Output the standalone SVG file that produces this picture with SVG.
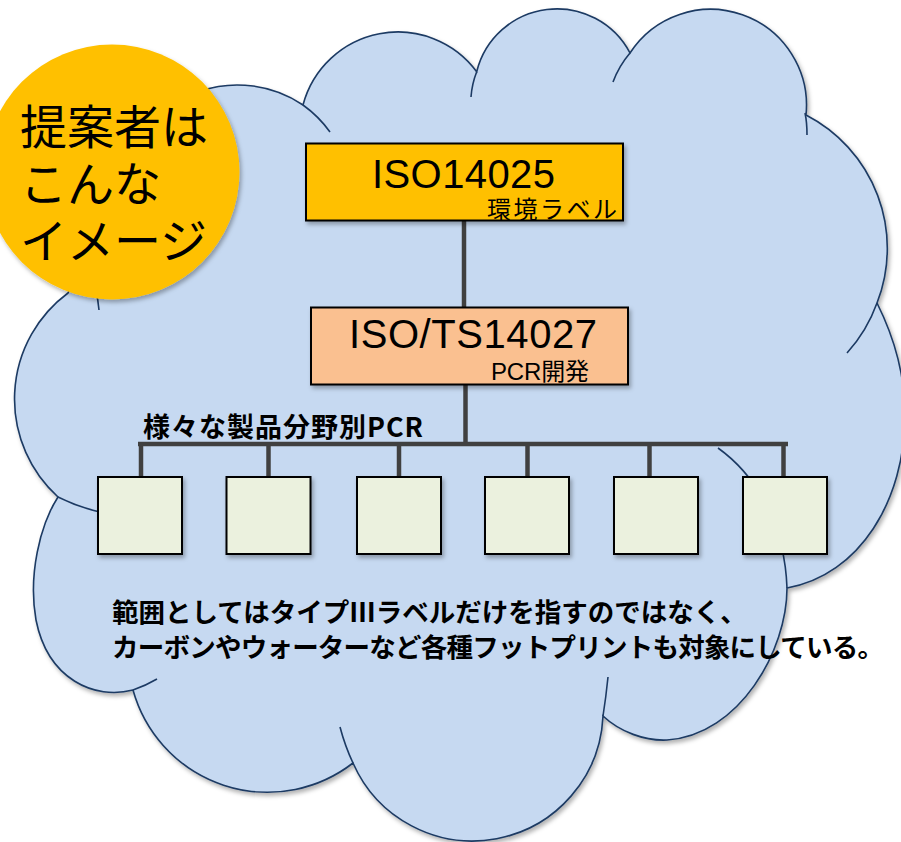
<svg xmlns="http://www.w3.org/2000/svg" width="901" height="842" viewBox="0 0 901 842">
<defs>
<filter id="sh" x="-10%" y="-10%" width="125%" height="125%">
<feDropShadow dx="2" dy="3" stdDeviation="2" flood-color="#000" flood-opacity="0.3"/>
</filter>
<style>
.cloud{fill:#c6d9f1;stroke:#1c3a63;stroke-width:1.6}
.stub{fill:none;stroke:#1c3a63;stroke-width:1.6}
.box{stroke:#000;stroke-width:2;filter:url(#sh)}
.pbox{fill:#ebf1de}
.conn{fill:none;stroke:#404040;stroke-width:4.5}
.big{font-family:"Liberation Sans","Noto Sans CJK JP",sans-serif;font-size:40px;fill:#000}
.sub{font-family:"Liberation Sans","Noto Sans CJK JP",sans-serif;font-size:24px;fill:#000}
.jp{font-family:"Noto Sans CJK JP",sans-serif;fill:#000}
</style>
</defs>
<rect width="901" height="842" fill="#ffffff"/>
<g id="cloud">
<path class="cloud" filter="url(#sh)" d="M68,293 L140,140 L200,91 A118,118 0 0 1 303,105 A98.1,98.1 0 0 1 476.7,71.7 A82.6,82.6 0 0 1 630,53 A96,96 0 0 1 806,115 A150,150 0 0 1 877,303 C893,335 905,375 905,415 C905,500 860,575 787,588 C787,650 740,735 667,740 C645,741 620,732 603,716 A130.6,130.6 0 0 1 353,763 A139.6,139.6 0 0 1 133,690 C95,700 48,680 36,620 C28,575 40,525 58,497 A132,132 0 0 1 68,293 Z"/>
<path class="stub" d="M96,290 Q98,300 99,310"/>
<path class="stub" d="M303,105 A118,118 0 0 1 330,132"/>
<path class="stub" d="M471,97 A86,86 0 0 1 476.7,71.7"/>
<path class="stub" d="M613,82 A96,96 0 0 1 630,53"/>
<path class="stub" d="M805,113 Q807,122 807,135"/>
<path class="stub" d="M877,303 A150,150 0 0 1 847,353"/>
<path class="stub" d="M718,448 C760,478 785,530 787,588"/>
<path class="stub" d="M608,677 Q606,697 603,716"/>
<path class="stub" d="M340,727 Q345,746 353,763"/>
<path class="stub" d="M133,690 Q145,686 157,679"/>
<path class="stub" d="M58,497 Q78,507 100,512"/>
</g>
<g id="connectors">
<line class="conn" x1="464" y1="221" x2="464" y2="307"/>
<line class="conn" x1="465.5" y1="385" x2="465.5" y2="444"/>
<line class="conn" x1="138" y1="444" x2="788" y2="444"/>
<line class="conn" x1="141" y1="442" x2="141" y2="477"/>
<line class="conn" x1="268.5" y1="444" x2="268.5" y2="477"/>
<line class="conn" x1="399" y1="444" x2="399" y2="477"/>
<line class="conn" x1="527.5" y1="444" x2="527.5" y2="477"/>
<line class="conn" x1="649.5" y1="444" x2="649.5" y2="477"/>
<line class="conn" x1="783.5" y1="442" x2="783.5" y2="477"/>
</g>
<g id="pcr-label">
<text class="jp" x="143" y="437" font-size="27" font-weight="bold" textLength="280">様々な製品分野別PCR</text>
</g>
<g id="iso14025">
<rect class="box" x="306" y="143.5" width="317" height="77" fill="#ffc000"/>
<text class="big" x="372" y="188" textLength="183">ISO14025</text>
<text class="sub" x="487" y="218" textLength="130">環境ラベル</text>
</g>
<g id="iso14027">
<rect class="box" x="311" y="307.5" width="317" height="77" fill="#fac090"/>
<text class="big" x="349" y="348" textLength="248">ISO/TS14027</text>
<text class="sub" x="491" y="380" textLength="98">PCR開発</text>
</g>
<g id="p1"><rect class="box pbox" x="98" y="477" width="84" height="77"/></g>
<g id="p2"><rect class="box pbox" x="226.5" y="477" width="84" height="77"/></g>
<g id="p3"><rect class="box pbox" x="357" y="477" width="84" height="77"/></g>
<g id="p4"><rect class="box pbox" x="485" y="477" width="84" height="77"/></g>
<g id="p5"><rect class="box pbox" x="614" y="477" width="84" height="77"/></g>
<g id="p6"><rect class="box pbox" x="743" y="477" width="84" height="77"/></g>
<g id="note">
<text class="jp" x="112" y="622" font-size="26.5" font-weight="bold">範囲としてはタイプⅢラベルだけを指すのではなく、</text>
<text class="jp" x="112" y="657" font-size="26.5" font-weight="bold" textLength="772">カーボンやウォーターなど各種フットプリントも対象にしている。</text>
</g>
<g id="badge">
<circle cx="112" cy="172" r="127.5" fill="#ffc000" filter="url(#sh)"/>
<text class="jp" font-size="47">
<tspan x="20" y="144">提案者は</tspan>
<tspan x="20" y="201">こんな</tspan>
<tspan x="20" y="258">イメージ</tspan>
</text>
</g>
</svg>
